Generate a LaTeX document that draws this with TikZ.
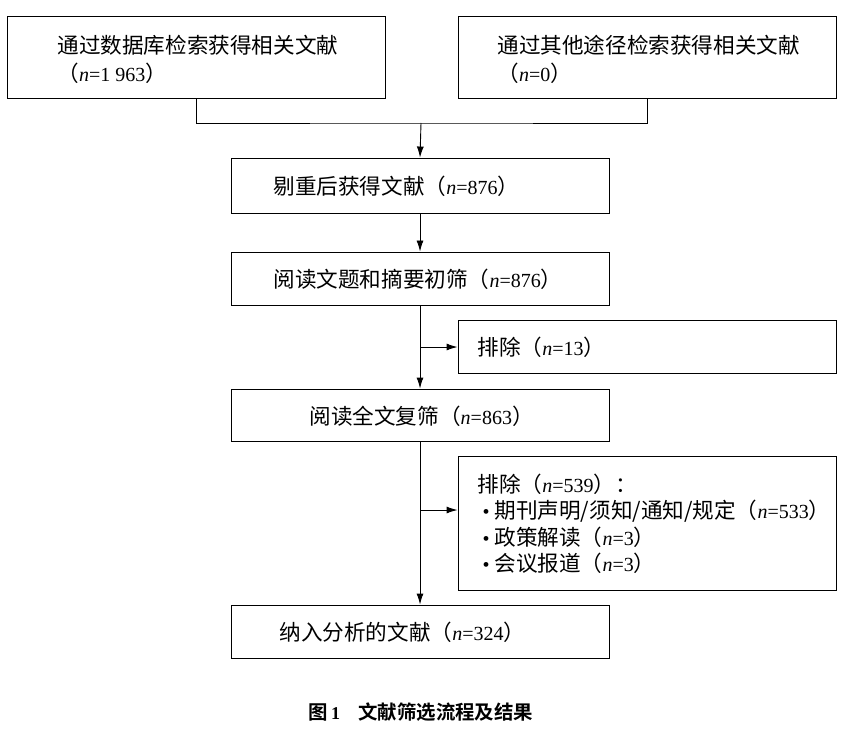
\documentclass[tikz,border=0pt]{standalone}
\usepackage{fontspec}
\usetikzlibrary{arrows.meta}
\setmainfont{Liberation Serif}
\newfontfamily\cjk{Noto Sans CJK SC}[Scale=1.08,BoldFont={Noto Sans CJK SC Bold}]
\newcommand{\C}[1]{{\cjk #1}}
\newcommand{\nn}{\textit{n}}
\begin{document}
\begin{tikzpicture}[x=1pt,y=-1pt,
  box/.style={draw,line width=0.9pt,inner sep=0pt},
  txt/.style={font=\fontsize{20}{28}\selectfont,anchor=west,align=left},
  ln/.style={line width=0.9pt},
  arr/.style={ln,-{Latex[length=11pt,width=7pt]}}]
\useasboundingbox (0,0) rectangle (853,735);
\node[box,minimum width=378,minimum height=82] (b1) at (196,57) {};
\node[box,minimum width=378,minimum height=82] (b2) at (647,57) {};
\node[box,minimum width=378,minimum height=55] (b3) at (420,185.5) {};
\node[box,minimum width=378,minimum height=53] (b4) at (420,278.5) {};
\node[box,minimum width=378,minimum height=53] (e1) at (647,346.5) {};
\node[box,minimum width=378,minimum height=52] (b5) at (420,415) {};
\node[box,minimum width=378,minimum height=134] (e2) at (647,523) {};
\node[box,minimum width=378,minimum height=53] (b6) at (420,631.5) {};
\node[txt] (t1) at (54,59) {\C{通过数据库检索获得相关文献}\\\C{（}\nn=1 963\C{）}};
\node[txt] (t2) at (494,59) {\C{通过其他途径检索获得相关文献}\\\C{（}\nn=0\C{）}};
\node[txt] (t3) at (270,186.5) {\C{剔重后获得文献（}\nn=876\C{）}};
\node[txt] (t4) at (270,279.5) {\C{阅读文题和摘要初筛（}\nn=876\C{）}};
\node[txt] (t5) at (474,347.5) {\C{排除（}\nn=13\C{）}};
\node[txt] (t6) at (306,416) {\C{阅读全文复筛（}\nn=863\C{）}};
\node[txt,font=\fontsize{20}{26.5}\selectfont] (t7) at (474,524) {\C{排除（}\nn=539\C{）：}\\
\ \textbullet\ \C{期刊声明/须知/通知/规定（}\nn=533\C{）}\\
\ \textbullet\ \C{政策解读（}\nn=3\C{）}\\
\ \textbullet\ \C{会议报道（}\nn=3\C{）}};
\node[txt] (t8) at (276,632.5) {\C{纳入分析的文献（}\nn=324\C{）}};
\node[font=\fontsize{18}{20}\selectfont\bfseries] (cap) at (421,712) {\C{\bfseries 图}\,1\quad\C{\bfseries 文献筛选流程及结果}};
\coordinate (m) at (421,123);
\coordinate (j1) at (421,347);
\coordinate (j2) at (421,510);
\draw[ln] (b1.south) |- (m) -| (b2.south);
\draw[arr] (m) -- (b3.north);
\draw[arr] (b3.south) -- (b4.north);
\draw[arr] (b4.south) -- (b5.north);
\draw[arr] (j1) -- (e1.west |- j1);
\draw[arr] (b5.south) -- (b6.north);
\draw[arr] (j2) -- (e2.west |- j2);
\end{tikzpicture}
\end{document}
